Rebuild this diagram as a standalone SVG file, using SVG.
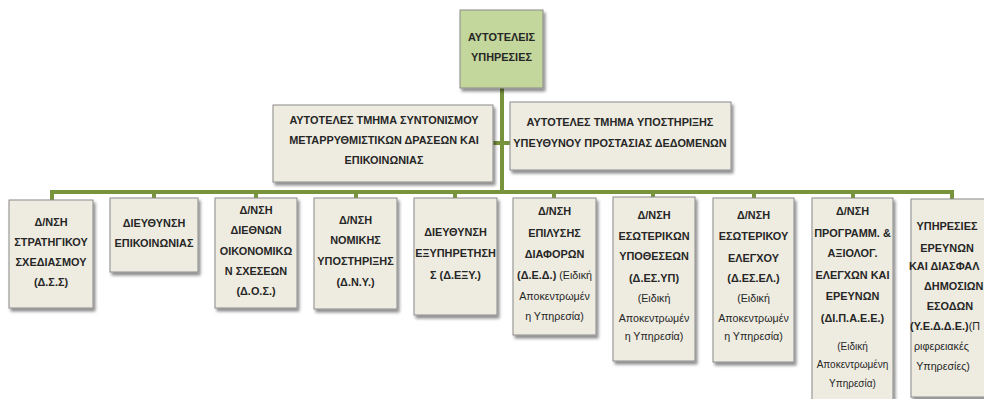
<svg xmlns="http://www.w3.org/2000/svg" width="984" height="399" viewBox="0 0 984 399">
  <defs>
    <filter id="sh" x="-10%" y="-10%" width="130%" height="130%">
      <feDropShadow dx="2" dy="3" stdDeviation="1.5" flood-color="#000" flood-opacity="0.45"/>
    </filter>
  </defs>
  <style>
    .box{fill:#eeece1;stroke:#8a8a8a;stroke-width:1;filter:url(#sh)}
    .top{fill:#c3d69b}
    .t{font-family:"Liberation Sans",Arial,sans-serif;font-size:10.9px;font-weight:bold;fill:#262626;text-anchor:middle}
    .r{font-weight:normal;font-size:10.7px}
    .s{font-size:10px;font-weight:normal}
    .st{text-anchor:start}
    .ln{stroke:#77933c;stroke-width:4;fill:none}
  </style>
  <rect width="984" height="399" fill="#fff"/>

  <!-- connectors -->
  <g id="connectors" class="ln">
    <path d="M502,88 V192"/>
    <path d="M492,143 H511"/>
    <path d="M52,200 V192 H952 V200"/>
    <path d="M154,192 V198"/>
    <path d="M256,192 V198"/>
    <path d="M356,192 V198"/>
    <path d="M455,192 V198"/>
    <path d="M554,192 V198"/>
    <path d="M653,192 V197"/>
    <path d="M754,192 V198"/>
    <path d="M853,192 V198"/>
  </g>

  <!-- top level -->
  <g id="root">
    <rect class="box top" x="460" y="10" width="83" height="78"/>
    <text class="t" x="501.5" y="41">ΑΥΤΟΤΕΛΕΙΣ</text>
    <text class="t" x="501.5" y="61">ΥΠΗΡΕΣΙΕΣ</text>
  </g>

  <!-- staff units -->
  <g id="coordination">
    <rect class="box" x="273" y="105" width="220" height="77"/>
    <text class="t" x="384" y="124">ΑΥΤΟΤΕΛΕΣ ΤΜΗΜΑ ΣΥΝΤΟΝΙΣΜΟΥ</text>
    <text class="t" x="384" y="144">ΜΕΤΑΡΡΥΘΜΙΣΤΙΚΩΝ ΔΡΑΣΕΩΝ ΚΑΙ</text>
    <text class="t" x="384" y="164">ΕΠΙΚΟΙΝΩΝΙΑΣ</text>
  </g>
  <g id="dpo">
    <rect class="box" x="510" y="102" width="221" height="68"/>
    <text class="t" x="620" y="126">ΑΥΤΟΤΕΛΕΣ ΤΜΗΜΑ ΥΠΟΣΤΗΡΙΞΗΣ</text>
    <text class="t" x="620" y="147">ΥΠΕΥΘΥΝΟΥ ΠΡΟΣΤΑΣΙΑΣ ΔΕΔΟΜΕΝΩΝ</text>
  </g>

  <!-- directorates -->
  <g id="dss">
    <rect class="box" x="9" y="200" width="84" height="108"/>
    <text class="t" x="51" y="226">Δ/ΝΣΗ</text>
    <text class="t" x="51" y="246">ΣΤΡΑΤΗΓΙΚΟΥ</text>
    <text class="t" x="51" y="266">ΣΧΕΔΙΑΣΜΟΥ</text>
    <text class="t" x="51" y="286">(Δ.Σ.Σ)</text>
  </g>
  <g id="comm">
    <rect class="box" x="110" y="198" width="88" height="74"/>
    <text class="t" x="154" y="227">ΔΙΕΥΘΥΝΣΗ</text>
    <text class="t" x="154" y="247">ΕΠΙΚΟΙΝΩΝΙΑΣ</text>
  </g>
  <g id="dos">
    <rect class="box" x="215" y="198" width="82" height="110"/>
    <text class="t" x="256" y="214">Δ/ΝΣΗ</text>
    <text class="t" x="256" y="234">ΔΙΕΘΝΩΝ</text>
    <text class="t" x="256" y="255">ΟΙΚΟΝΟΜΙΚΩ</text>
    <text class="t" x="256" y="275">Ν ΣΧΕΣΕΩΝ</text>
    <text class="t" x="256" y="295">(Δ.Ο.Σ.)</text>
  </g>
  <g id="dny">
    <rect class="box" x="314" y="198" width="83" height="111"/>
    <text class="t" x="355.5" y="224">Δ/ΝΣΗ</text>
    <text class="t" x="355.5" y="244">ΝΟΜΙΚΗΣ</text>
    <text class="t" x="355.5" y="265">ΥΠΟΣΤΗΡΙΞΗΣ</text>
    <text class="t" x="355.5" y="286">(Δ.Ν.Υ.)</text>
  </g>
  <g id="dexy">
    <rect class="box" x="414" y="198" width="83" height="117"/>
    <text class="t" x="455.5" y="236">ΔΙΕΥΘΥΝΣΗ</text>
    <text class="t" x="455.5" y="257">ΕΞΥΠΗΡΕΤΗΣΗ</text>
    <text class="t" x="455.5" y="279">Σ (Δ.ΕΞΥ.)</text>
  </g>
  <g id="ded">
    <rect class="box" x="513" y="198" width="83" height="137"/>
    <text class="t" x="554.5" y="215">Δ/ΝΣΗ</text>
    <text class="t" x="554.5" y="237">ΕΠΙΛΥΣΗΣ</text>
    <text class="t" x="554.5" y="258">ΔΙΑΦΟΡΩΝ</text>
    <text class="t" x="554.5" y="279">(Δ.Ε.Δ.) <tspan class="r">(Ειδική</tspan></text>
    <text class="t r" x="554.5" y="300">Αποκεντρωμέν</text>
    <text class="t r" x="554.5" y="320">η Υπηρεσία)</text>
  </g>
  <g id="desyp">
    <rect class="box" x="613" y="197" width="82" height="164"/>
    <text class="t" x="654" y="219">Δ/ΝΣΗ</text>
    <text class="t" x="654" y="240">ΕΣΩΤΕΡΙΚΩΝ</text>
    <text class="t" x="654" y="260">ΥΠΟΘΕΣΕΩΝ</text>
    <text class="t" x="654" y="282">(Δ.ΕΣ.ΥΠ)</text>
    <text class="t r" x="654" y="302">(Ειδική</text>
    <text class="t r" x="654" y="322">Αποκεντρωμέν</text>
    <text class="t r" x="654" y="340">η Υπηρεσία)</text>
  </g>
  <g id="desel">
    <rect class="box" x="713" y="198" width="81" height="164"/>
    <text class="t" x="753.5" y="219">Δ/ΝΣΗ</text>
    <text class="t" x="753.5" y="240">ΕΣΩΤΕΡΙΚΟΥ</text>
    <text class="t" x="753.5" y="262">ΕΛΕΓΧΟΥ</text>
    <text class="t" x="753.5" y="282">(Δ.ΕΣ.ΕΛ.)</text>
    <text class="t r" x="753.5" y="302">(Ειδική</text>
    <text class="t r" x="753.5" y="322">Αποκεντρωμέν</text>
    <text class="t r" x="753.5" y="340">η Υπηρεσία)</text>
  </g>
  <g id="dipaee">
    <rect class="box" x="812" y="198" width="81" height="212"/>
    <text class="t" x="852.5" y="215">Δ/ΝΣΗ</text>
    <text class="t" x="852.5" y="237">ΠΡΟΓΡΑΜΜ. &amp;</text>
    <text class="t" x="852.5" y="257">ΑΞΙΟΛΟΓ.</text>
    <text class="t" x="852.5" y="279">ΕΛΕΓΧΩΝ ΚΑΙ</text>
    <text class="t" x="852.5" y="300">ΕΡΕΥΝΩΝ</text>
    <text class="t" x="852.5" y="322">(ΔΙ.Π.Α.Ε.Ε.)</text>
    <text class="t s" x="852.5" y="350">(Ειδική</text>
    <text class="t s" x="852.5" y="368">Αποκεντρωμένη</text>
    <text class="t s" x="852.5" y="387">Υπηρεσία)</text>
  </g>
  <g id="yedde">
    <rect class="box" x="911" y="199" width="90" height="198"/>
    <text class="t" x="947" y="230">ΥΠΗΡΕΣΙΕΣ</text>
    <text class="t" x="947" y="252">ΕΡΕΥΝΩΝ</text>
    <text class="t st" x="909" y="270">ΚΑΙ ΔΙΑΣΦΑΛ</text>
    <text class="t st" x="924" y="290">ΔΗΜΟΣΙΩΝ</text>
    <text class="t" x="950" y="310">ΕΣΟΔΩΝ</text>
    <text class="t st" x="910" y="330">(Υ.Ε.Δ.Δ.Ε.)<tspan class="r">(Π</tspan></text>
    <text class="t r st" x="914" y="350">ριφερειακές</text>
    <text class="t r" x="943" y="370">Υπηρεσίες)</text>
  </g>
</svg>
